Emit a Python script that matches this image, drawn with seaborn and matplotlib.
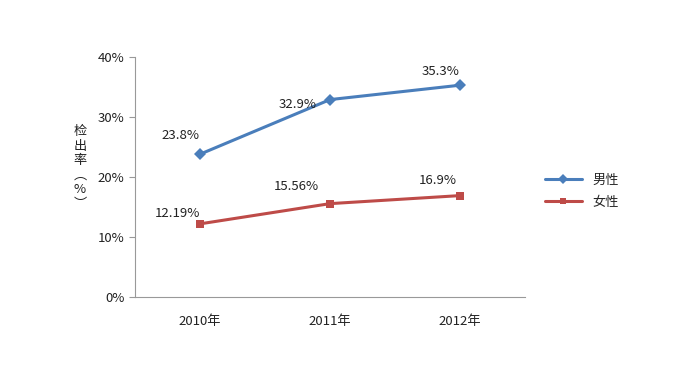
import numpy as np
import pandas as pd
import seaborn as sns
import matplotlib.pyplot as plt
from matplotlib.ticker import FixedLocator, PercentFormatter

years = ['2010年', '2011年', '2012年']
male = [23.8, 32.9, 35.3]
female = [12.19, 15.56, 16.9]
male_labels = ['23.8%', '32.9%', '35.3%']
female_labels = ['12.19%', '15.56%', '16.9%']
series_names = ['男性', '女性']

sns.set_style('white')
plt.rcParams['font.family'] = ['Noto Sans CJK SC', 'DejaVu Sans']

df = pd.DataFrame({
    'year': years * 2,
    'rate': male + female,
    'sex': [series_names[0]] * 3 + [series_names[1]] * 3,
})

fig = plt.figure(figsize=(6.77, 3.78), dpi=100)
ax = fig.add_axes([0.1994, 0.2143, 0.5761, 0.6349])

colors = {'男性': '#4A7EBB', '女性': '#BE4B48'}
markers = {'男性': 'D', '女性': 's'}
sns.lineplot(data=df, x='year', y='rate', hue='sex', style='sex',
             palette=colors, markers=markers, dashes=False, linewidth=2.2,
             markersize=6, markeredgewidth=0, ax=ax)

ax.set_xlim(-0.5, 2.5)
ax.set_ylim(0, 40)
ax.yaxis.set_major_locator(FixedLocator([0, 10, 20, 30, 40]))
ax.yaxis.set_major_formatter(PercentFormatter(decimals=0))
ax.xaxis.set_major_locator(FixedLocator([0, 1, 2]))
ax.xaxis.set_minor_locator(FixedLocator([-0.5, 0.5, 1.5, 2.5]))
ax.tick_params(axis='x', which='major', length=0, pad=13, labelsize=9.5, colors='#222222')
ax.tick_params(axis='x', which='minor', length=4, width=0.8, color='#999999', direction='out')
ax.tick_params(axis='y', length=4, width=0.8, color='#999999', direction='out', labelsize=9.5,
               labelcolor='#222222', left=True)
ax.set_xlabel('')
ax.set_ylabel('')
for s in ['top', 'right']:
    ax.spines[s].set_visible(False)
for s in ['left', 'bottom']:
    ax.spines[s].set_color('#999999')
    ax.spines[s].set_linewidth(0.8)

male_off = [(-14, 9), (-23, -8), (-14, 5)]
female_off = [(-16, 3), (-24, 8), (-16, 6)]
for i in range(3):
    ax.annotate(male_labels[i], (i, male[i]), xytext=male_off[i], textcoords='offset points',
                ha='center', va='bottom', fontsize=9.5, color='#222222')
    ax.annotate(female_labels[i], (i, female[i]), xytext=female_off[i], textcoords='offset points',
                ha='center', va='bottom', fontsize=9.5, color='#222222')

fig.text(80 / 677, 1 - 168 / 378, '检\n出\n率\n︵\n%\n︶', ha='center', va='center',
         fontsize=9.5, linespacing=1.15, color='#222222')

leg = ax.legend(loc='center left', bbox_to_anchor=(1.02, 0.44), frameon=False, fontsize=9.5,
                handlelength=2.8, labelspacing=0.7, markerscale=0.8)

fig.savefig('out.png', dpi=100)
